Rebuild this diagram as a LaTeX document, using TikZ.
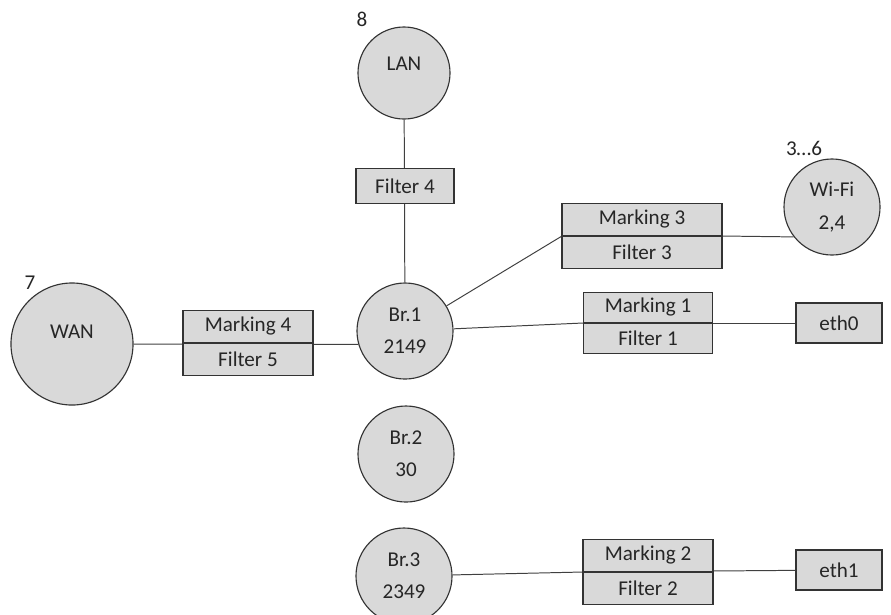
\documentclass[tikz,border=0pt]{standalone}
\usepackage{fontspec}
\setmainfont{Carlito}
\usetikzlibrary{positioning}

\tikzset{
  net/.style={circle,draw=black!80,fill=black!15,line width=0.8pt,inner sep=0pt,
    align=center,text=black!85},
  halfbox/.style={rectangle,draw=black!80,fill=black!15,line width=0.8pt,inner sep=0pt,
    minimum height=0.8cm,text=black!85},
  port/.style={rectangle,draw=black!80,fill=black!15,line width=0.8pt,inner sep=0pt,
    minimum width=2.15cm,minimum height=1cm,text=black!85},
  num/.style={text=black!85},
  link/.style={draw=black!75,line width=0.7pt}
}

\begin{document}
\begin{tikzpicture}[x=0.025cm,y=-0.025cm,font=\fontsize{15}{18}\selectfont]
\useasboundingbox (0,0) rectangle (891,614);

% interfaces
\node[net,minimum size=2.3cm,text depth=0.45cm] (lan) at (404,73) {LAN};
\node[num] (lannum) at (362,19) {8};
\node[net,minimum size=3.05cm,text depth=0.6cm] (wan) at (72,344) {WAN};
\node[num] (wannum) at (30,283) {7};
\node[net,minimum size=2.4cm] (wifi) at (832,207) {Wi-Fi\\[6pt]2,4};
\node[num] (wifinum) at (804,148) {3…6};

% bridges
\node[net,minimum size=2.4cm] (br1) at (405,331) {Br.1\\[5pt]2149};
\node[net,minimum size=2.4cm] (br2) at (406,454) {Br.2\\[5pt]30};
\node[net,minimum size=2.4cm] (br3) at (404,576) {Br.3\\[5pt]2349};

% ports
\node[port] (eth0) at (839,323) {eth0};
\node[port] (eth1) at (839,570) {eth1};

% links, drawn below the boxes
\draw[link] (lan) -- (br1);
\draw[link] (wan) -- (br1.196);
\draw[link] (br1) -- (562,236) coordinate (m3in);
\draw[link] (722,236) coordinate (m3out) -- (wifi.218);
\draw[link] (br1) -- (583,323) coordinate (m1in);
\draw[link] (m1in) -- (eth0);
\draw[link] (br3) -- (583,572) coordinate (m2in);
\draw[link] (m2in) -- (eth1);

% filters
\node[halfbox,minimum width=2.45cm,minimum height=0.87cm] (filt4) at (405,186) {Filter 4};

\node[halfbox,minimum width=3.25cm,anchor=south] (mark4) at (248,343) {Marking 4};
\node[halfbox,minimum width=3.25cm,below=0pt of mark4] (filt5) {Filter 5};

\node[halfbox,minimum width=4cm,anchor=south] (mark3) at (m3in -| 642,0) {Marking 3};
\node[halfbox,minimum width=4cm,below=0pt of mark3] (filt3) {Filter 3};

\node[halfbox,minimum width=3.225cm,minimum height=0.75cm,anchor=south] (mark1) at (648,323) {Marking 1};
\node[halfbox,minimum width=3.225cm,minimum height=0.75cm,below=0pt of mark1] (filt1) {Filter 1};

\node[halfbox,minimum width=3.25cm,anchor=south] (mark2) at (648,572) {Marking 2};
\node[halfbox,minimum width=3.25cm,below=0pt of mark2] (filt2) {Filter 2};

\end{tikzpicture}
\end{document}
